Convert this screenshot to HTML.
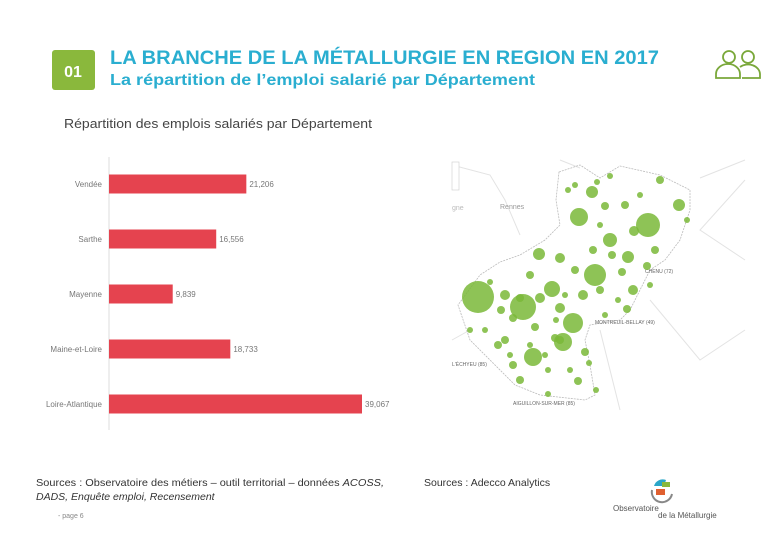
<!DOCTYPE html>
<html><head><meta charset="utf-8">
<style>
html,body{margin:0;padding:0;background:#fff;}
svg{display:block;font-family:"Liberation Sans",sans-serif;}
</style></head>
<body>
<svg id="page" width="780" height="540" viewBox="0 0 780 540">
  <rect x="52" y="50" width="43" height="40" rx="3" fill="#8ab83c"/>
  <text x="73" y="77" text-anchor="middle" font-size="16" font-weight="bold" fill="#fff">01</text>
  <text x="110" y="64" font-size="19" font-weight="bold" fill="#2aaed0" textLength="549" lengthAdjust="spacingAndGlyphs">LA BRANCHE DE LA MÉTALLURGIE EN REGION EN 2017</text>
  <text x="110" y="85" font-size="16" font-weight="bold" fill="#2aaed0" textLength="425" lengthAdjust="spacingAndGlyphs">La répartition de l’emploi salarié par Département</text>
  <g fill="none" stroke="#7aa83a" stroke-width="1.8">
    <circle cx="729" cy="57" r="6"/><circle cx="748" cy="57" r="6"/>
    <path d="M716 78 v-4 a12 10 0 0 1 24 0 v4 z"/><path d="M742 78 h18 v-4 a12 10 0 0 0 -20 -7"/>
  </g>
  <text x="64" y="128" font-size="13" fill="#444" textLength="308" lengthAdjust="spacingAndGlyphs">Répartition des emplois salariés par Département</text>

  <line x1="109" y1="157" x2="109" y2="430" stroke="#ddd" stroke-width="1"/>
  <g id="bars"></g>

  <g id="map">
    <rect x="452" y="160" width="295" height="250" fill="#fff"/>
    <path d="M452 165 L490 175 L505 200 L520 235 M560 160 L580 168 M700 178 L745 160 M745 180 L700 230 L745 260 M650 300 L700 360 L745 330 M600 330 L620 410 M452 340 L470 330" stroke="#e3e3e3" fill="none" stroke-width="1"/>
    <path d="M559 172 L580 165 L600 178 L620 166 L660 175 L690 190 L690 210 L680 240 L665 260 L650 270 L640 290 L630 310 L620 320 L590 325 L585 340 L590 365 L595 395 L585 400 L540 395 L515 385 L500 370 L470 340 L458 305 L480 275 L500 262 L520 255 L545 240 L560 225 L556 200 Z" stroke="#bbb" fill="none" stroke-width="0.8" stroke-dasharray="2 1"/>
    <text x="500" y="209" font-size="7" fill="#999">Rennes</text>
    <text x="452" y="210" font-size="7" fill="#bbb">gne</text>
    <text x="645" y="273" font-size="5" fill="#666">CHENU (72)</text>
    <text x="595" y="324" font-size="5" fill="#666">MONTREUIL-BELLAY (49)</text>
    <text x="452" y="366" font-size="5" fill="#666">L'ÉCHYEU (85)</text>
    <text x="513" y="405" font-size="5" fill="#666">AIGUILLON-SUR-MER (85)</text>
    <rect x="452" y="162" width="7" height="28" fill="#fff" stroke="#ccc" stroke-width="0.6"/>
  </g>

  <text x="36" y="486" font-size="10.5" fill="#333" textLength="348" lengthAdjust="spacingAndGlyphs">Sources : Observatoire des métiers – outil territorial – données <tspan font-style="italic">ACOSS,</tspan></text>
  <text x="36" y="500" font-size="10.5" font-style="italic" fill="#333">DADS, Enquête emploi, Recensement</text>
  <text x="424" y="486" font-size="10.5" fill="#333">Sources : Adecco Analytics</text>
  <text x="58" y="518" font-size="7" fill="#888">- page 6</text>

  <g>
    <path d="M654 486 a9 9 0 0 1 12 -6 l-2 6 z" fill="#2aa6c8"/>
    <rect x="662" y="482" width="8" height="5" fill="#8ab83c"/>
    <rect x="656" y="489" width="9" height="6" fill="#e06030"/>
    <path d="M652 490 a10 10 0 0 0 20 4" stroke="#888" fill="none" stroke-width="2"/>
    <text x="613" y="511" font-size="8" fill="#555">Observatoire</text>
    <text x="658" y="518" font-size="8" fill="#555">de la Métallurgie</text>
  </g>
</svg>
<script>
const categories = ["Vendée", "Sarthe", "Mayenne", "Maine-et-Loire", "Loire-Atlantique"];
const values = [21206, 16556, 9839, 18733, 39067];
const valueLabels = ["21,206", "16,556", "9,839", "18,733", "39,067"];

const NS = "http://www.w3.org/2000/svg";
const x0 = 109, xMaxPx = 362, vMax = 39067;
function xScale(v){ return x0 + (v / vMax) * (xMaxPx - x0); }
const yTop = 184, yStep = 55, barH = 19;
function yScale(i){ return yTop + i * yStep; }
const g = document.getElementById("bars");
categories.forEach(function(c, i){
  const yc = yScale(i);
  const r = document.createElementNS(NS, "rect");
  r.setAttribute("x", x0);
  r.setAttribute("y", yc - barH/2);
  r.setAttribute("width", xScale(values[i]) - x0);
  r.setAttribute("height", barH);
  r.setAttribute("fill", "#e5434f");
  
  
  g.appendChild(r);
  const t = document.createElementNS(NS, "text");
  t.setAttribute("x", 102);
  t.setAttribute("y", yc + 3);
  t.setAttribute("text-anchor", "end");
  t.setAttribute("font-size", "8");
  t.setAttribute("fill", "#777");
  t.textContent = c;
  
  
  g.appendChild(t);
  const v = document.createElementNS(NS, "text");
  v.setAttribute("x", xScale(values[i]) + 3);
  v.setAttribute("y", yc + 3);
  v.setAttribute("font-size", "8");
  v.setAttribute("fill", "#777");
  v.textContent = valueLabels[i];
  
  
  g.appendChild(v);
});

// decorative map bubbles (approximate positions from reference image)
const bubbles = [[478,297,16],[523,307,13],[648,225,12],[579,217,9],[595,275,11],[552,289,8],[573,323,10],[563,342,9],[533,357,9],[592,192,6],[610,240,7],[679,205,6],[628,257,6],[539,254,6],[540,298,5],[505,295,5],[560,308,5],[583,295,5],[634,231,5],[660,180,4],[605,206,4],[625,205,4],[655,250,4],[647,266,4],[633,290,5],[627,309,4],[535,327,4],[505,340,4],[513,318,4],[530,275,4],[560,258,5],[575,270,4],[593,250,4],[612,255,4],[600,225,3],[622,272,4],[555,338,4],[548,370,3],[585,352,4],[578,381,4],[513,365,4],[520,380,4],[498,345,4],[501,310,4],[485,330,3],[470,330,3],[490,282,3],[520,298,4],[610,176,3],[597,182,3],[575,185,3],[568,190,3],[640,195,3],[687,220,3],[560,340,4],[545,355,3],[600,290,4],[618,300,3],[650,285,3],[605,315,3],[589,363,3],[596,390,3],[548,394,3],[570,370,3],[556,320,3],[530,345,3],[510,355,3],[565,295,3]];
const m = document.getElementById("map");
bubbles.forEach(function(b){
  const c = document.createElementNS(NS, "circle");
  c.setAttribute("cx", b[0]); c.setAttribute("cy", b[1]); c.setAttribute("r", b[2]);
  c.setAttribute("fill", "#7ab838"); c.setAttribute("fill-opacity", "0.85");
  
  
  m.appendChild(c);
});
</script>
</body></html>
